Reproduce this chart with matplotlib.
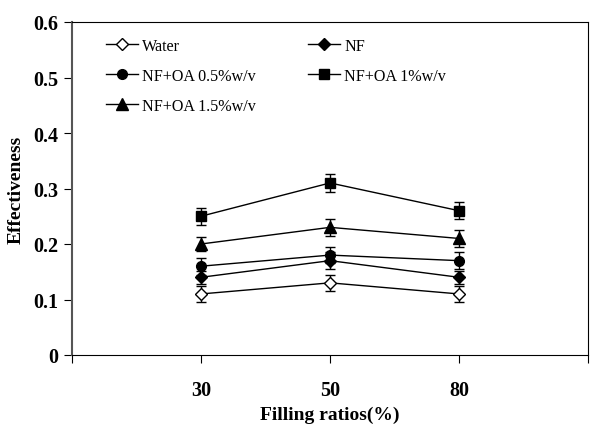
import matplotlib
matplotlib.use("Agg")
import matplotlib.pyplot as plt
from matplotlib.lines import Line2D

plt.rcParams['font.family'] = ['Liberation Serif', 'DejaVu Serif']

categories = ["30", "50", "80"]
water = [0.11, 0.13, 0.11]
nf = [0.14, 0.17, 0.14]
oa05 = [0.16, 0.18, 0.17]
oa1 = [0.25, 0.31, 0.26]
oa15 = [0.20, 0.23, 0.21]
err_water = [0.015, 0.015, 0.015]
err_nf = [0.012, 0.015, 0.012]
err_oa05 = [0.015, 0.015, 0.015]
err_oa1 = [0.015, 0.016, 0.015]
err_oa15 = [0.013, 0.015, 0.015]

fig = plt.figure(figsize=(6, 4.31), dpi=100)
ax = fig.add_axes([72/600, 1-356/431, 516/600, 333/431])

x = [1, 2, 3]
series = [
    ("Water", water, err_water, dict(marker='D', mfc='white', mec='black', ms=6, mew=1)),
    ("NF", nf, err_nf, dict(marker='D', mfc='black', mec='black', ms=6)),
    ("NF+OA 0.5%w/v", oa05, err_oa05, dict(marker='o', mfc='black', mec='black', ms=7)),
    ("NF+OA 1%w/v", oa1, err_oa1, dict(marker='s', mfc='black', mec='black', ms=7.5)),
    ("NF+OA 1.5%w/v", oa15, err_oa15, dict(marker='^', mfc='black', mec='black', ms=8)),
]
handles = {}
for name, vals, err, st in series:
    ax.errorbar(x, vals, yerr=err, color='black', lw=1, elinewidth=1,
                capsize=3.5, capthick=1, **st)
    handles[name] = Line2D([], [], color='black', lw=1, **st)

order = ["Water", "NF+OA 0.5%w/v", "NF+OA 1.5%w/v", "NF", "NF+OA 1%w/v"]
ax.legend([handles[k] for k in order], order, ncol=2, loc='upper left',
          bbox_to_anchor=(0.066, 0.953), frameon=False, fontsize=11.6,
          borderaxespad=0, borderpad=0,
          handlelength=2.0, handletextpad=0.25, columnspacing=3.2,
          labelspacing=0.88)

ax.set_xlim(0, 4)
ax.set_ylim(0, 0.6)
ax.set_xticks([0, 1, 2, 3, 4])
ax.set_xticklabels(["", "30", "50", "80", ""], fontweight='bold', fontsize=14.5)
ax.set_yticks([0, 0.1, 0.2, 0.3, 0.4, 0.5, 0.6])
ax.set_yticklabels(["0", "0.1", "0.2", "0.3", "0.4", "0.5", "0.6"], fontweight='bold', fontsize=14.5)
ax.tick_params(axis='x', direction='out', length=6, pad=12)
ax.tick_params(axis='y', direction='out', length=6, pad=4)
ax.spines['left'].set_color('#555555')
ax.spines['left'].set_linewidth(1.5)
ax.set_xlabel("Filling ratios(%)", fontweight='bold', fontsize=14, labelpad=4)
ax.set_ylabel("Effectiveness", fontweight='bold', fontsize=14, labelpad=6)

fig.savefig("out.png", dpi=100)
